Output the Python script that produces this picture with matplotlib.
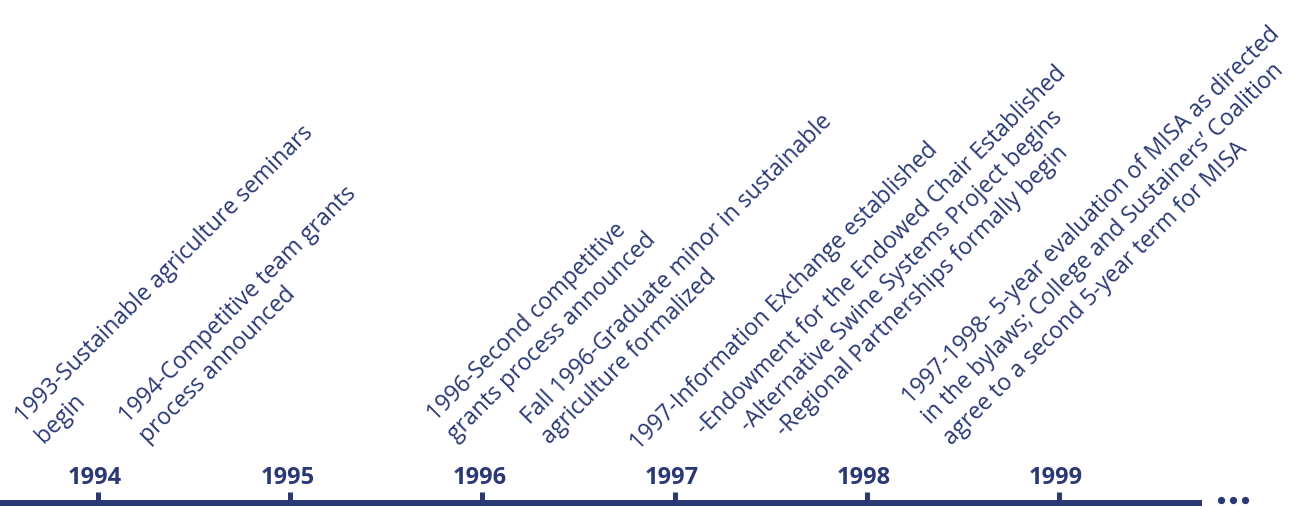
import numpy as np
import matplotlib
matplotlib.use("Agg")
import matplotlib.pyplot as plt
from matplotlib.transforms import IdentityTransform

# ---- data ----
years = [1994, 1995, 1996, 1997, 1998, 1999]
year_labels = ["1994", "1995", "1996", "1997", "1998", "1999"]

event_1993 = ["1993-Sustainable agriculture seminars", "begin"]
event_1994 = ["1994-Competitive team grants", "process announced"]
event_1996a = ["1996-Second competitive", "grants process announced"]
event_1996b = ["Fall 1996-Graduate minor in sustainable", "agriculture formalized"]
event_1997a = ["1997-Information Exchange established"]
event_1997b = ["-Endowment for the Endowed Chair Established",
               "-Alternative Swine Systems Project begins",
               "-Regional Partnerships formally begin"]
event_1998 = ["1997-1998- 5-year evaluation of MISA as directed",
              "in the bylaws; College and Sustainers\u2019 Coalition",
              "agree to a second 5-year term for MISA"]

# ---- layout (image pixel coords, y from top) ----
W, H = 1303, 507
NAVY = "#2A3874"
PX_PER_YEAR = 192.2
X0_PX = 98
LINE_SP = 28.5
FS = 16.6
FONT = "Open Sans"
SHIFT = (6, 4)

blocks = [
    (event_1993, (18, 420), "left"),
    (event_1994, (122, 420), "left"),
    (event_1996a, (430, 418), "left"),
    (event_1996b, (524, 421), "left"),
    (event_1997a, (633, 447), "left"),
    (event_1997b, (880, 251), "center"),
    (event_1998, (905, 401), "left"),
]

fig = plt.figure(figsize=(W / 100, H / 100), dpi=100)
ax = fig.add_axes([0, 0, 1, 1])
ax.set_xlim(years[0] - X0_PX / PX_PER_YEAR, years[0] + (W - X0_PX) / PX_PER_YEAR)
ax.set_ylim(H, 0)
ax.axis("off")

line_end_year = years[0] + (1202 - X0_PX) / PX_PER_YEAR
ax.plot([ax.get_xlim()[0], line_end_year], [503, 503], color=NAVY, lw=6 * 72 / 100,
        solid_capstyle="butt")
for y in years:
    ax.plot([y, y], [492, 500.5], color=NAVY, lw=5 * 72 / 100, solid_capstyle="butt")
for y, lab in zip(years, year_labels):
    ax.text(y - 3 / PX_PER_YEAR, 484, lab, ha="center", va="baseline",
            fontsize=17, fontweight="bold", color=NAVY, family=FONT)
dot_years = [line_end_year + d / PX_PER_YEAR for d in (19, 31, 43)]
ax.scatter(dot_years, [500.3] * 3, s=(7.3 * 72 / 100) ** 2, color=NAVY, zorder=3,
           linewidths=0)

c = np.cos(np.pi / 4)
for lines, (ax0, ay0), align in blocks:
    for k, ln in enumerate(lines):
        xi = ax0 + SHIFT[0] + k * LINE_SP * c
        yi = ay0 + SHIFT[1] + k * LINE_SP * c
        fig.text(xi, H - yi, ln, transform=IdentityTransform(), rotation=45,
                 rotation_mode="anchor", ha=align, va="baseline", fontsize=FS,
                 color=NAVY, family=FONT)

fig.savefig("out.png", dpi=100, facecolor="white")
